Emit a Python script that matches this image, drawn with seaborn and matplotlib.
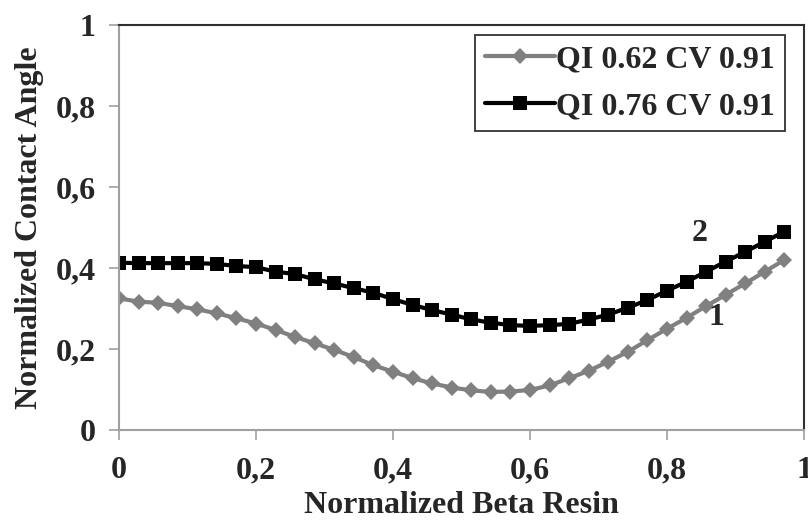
import numpy as np
import pandas as pd
import matplotlib
matplotlib.use("Agg")
import matplotlib.pyplot as plt
import seaborn as sns

# x positions: 35 points, step 1/35
beta = [i / 35 for i in range(35)]

# series 1 (grey diamonds)
qi062 = [0.325, 0.317, 0.314, 0.306, 0.298, 0.288, 0.276, 0.263, 0.247, 0.230,
         0.214, 0.198, 0.180, 0.160, 0.144, 0.128, 0.115, 0.105, 0.098, 0.094,
         0.095, 0.099, 0.110, 0.128, 0.146, 0.169, 0.193, 0.222, 0.250, 0.277,
         0.306, 0.334, 0.362, 0.391, 0.420]

# series 2 (black squares)
qi076 = [0.413, 0.412, 0.412, 0.412, 0.412, 0.410, 0.405, 0.402, 0.391, 0.385,
         0.372, 0.362, 0.350, 0.339, 0.323, 0.309, 0.296, 0.285, 0.273, 0.265,
         0.259, 0.257, 0.259, 0.262, 0.273, 0.285, 0.302, 0.321, 0.344, 0.366,
         0.391, 0.416, 0.440, 0.465, 0.490]

labels = ['QI 0.62 CV 0.91', 'QI 0.76 CV 0.91']
xticks = [0, 0.2, 0.4, 0.6, 0.8, 1]
yticks = [0, 0.2, 0.4, 0.6, 0.8, 1]

sns.set_style('white')
plt.rcParams['font.family'] = ['Liberation Serif', 'DejaVu Serif']
plt.rcParams['font.weight'] = 'bold'
FS = 23

fig = plt.figure(figsize=(8.08, 5.2), dpi=100)
ax = fig.add_axes([0.1473, 0.173, 0.8477, 0.779])

df1 = pd.DataFrame({'x': beta, 'y': qi062})
df2 = pd.DataFrame({'x': beta, 'y': qi076})
sns.lineplot(data=df1, x='x', y='y', ax=ax, color='#808080', linewidth=3,
             marker='D', markersize=8.5, markeredgewidth=0, label=labels[0])
sns.lineplot(data=df2, x='x', y='y', ax=ax, color='black', linewidth=3,
             marker='s', markersize=10, markeredgewidth=0, label=labels[1])

ax.set_xlim(0, 1)
ax.set_ylim(0, 1)
ax.set_xticks(xticks)
ax.set_yticks(yticks)
fmt = lambda v: ('%g' % v).replace('.', ',')
ax.set_xticklabels([fmt(v) for v in xticks])
ax.set_yticklabels([fmt(v) for v in yticks])
ax.tick_params(axis='both', labelsize=FS, length=7, width=1.2, color='#a0a0a0',
               direction='out')
ax.tick_params(axis='x', pad=12)
ax.tick_params(axis='y', pad=10)
ax.xaxis.set_ticks_position('bottom')
ax.yaxis.set_ticks_position('left')
for t in ax.get_xticklabels() + ax.get_yticklabels():
    t.set_fontweight('bold')

for s in ['left', 'bottom']:
    ax.spines[s].set_color('#a0a0a0')
    ax.spines[s].set_linewidth(1.5)
for s in ['top', 'right']:
    ax.spines[s].set_color('#303030')
    ax.spines[s].set_linewidth(1.5)

ax.set_xlabel('Normalized Beta Resin', fontsize=FS, fontweight='bold', labelpad=4)
ax.set_ylabel('Normalized Contact Angle', fontsize=FS, fontweight='bold', labelpad=8)

ax.text(0.848, 0.486, '2', fontsize=FS, fontweight='bold', ha='center', va='center')
ax.text(0.872, 0.277, '1', fontsize=FS, fontweight='bold', ha='center', va='center')

leg = ax.legend(loc='upper right', bbox_to_anchor=(0.972, 0.975), borderaxespad=0,
                fontsize=FS, frameon=True, fancybox=False, edgecolor='black',
                handlelength=2.2, handletextpad=0.05, borderpad=0.3, labelspacing=0.55)
leg.get_frame().set_linewidth(1.3)
for t in leg.get_texts():
    t.set_fontweight('bold')

fig.savefig('out.png', dpi=100)
